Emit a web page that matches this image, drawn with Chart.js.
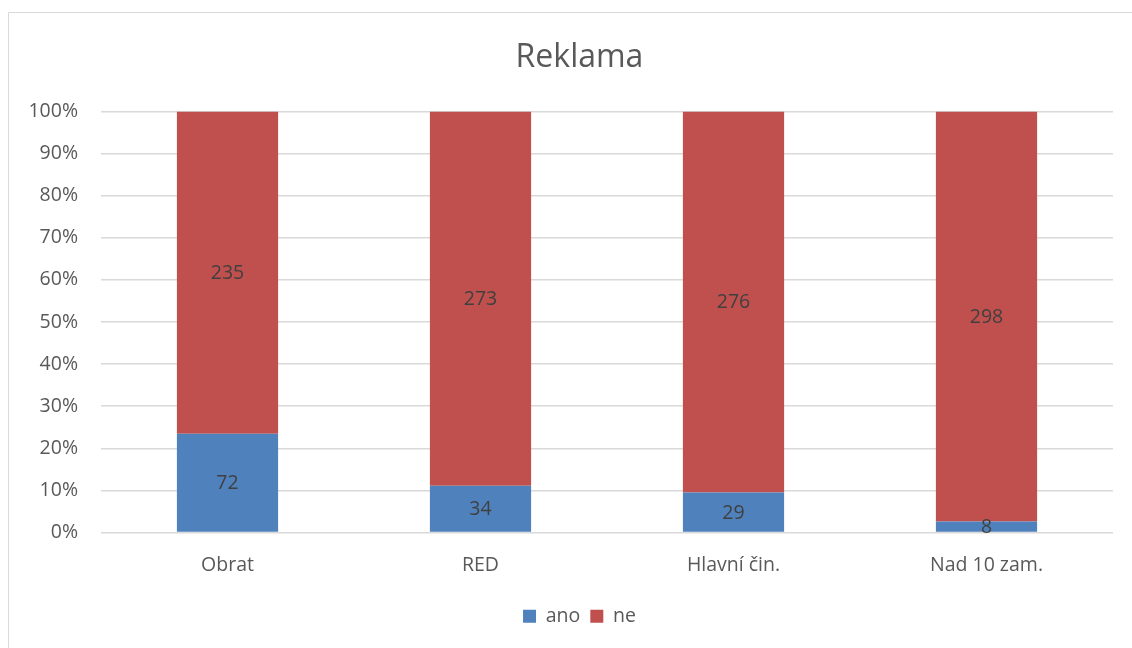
<!DOCTYPE html>
<html lang="cs">
<head>
<meta charset="UTF-8">
<title>Reklama</title>
<script src="https://cdn.jsdelivr.net/npm/chart.js"></script>
<style>
  html, body { margin: 0; background: #fff; overflow: hidden; }
  /* canvas is a bit wider than the window so title/legend centre like the original */
  #wrap { width: 1159px; height: 648px; position: relative; }
</style>
</head>
<body>
<div id="wrap"><canvas id="reklamaChart"></canvas></div>
<script>
// data
const categories = ['Obrat', 'RED', 'Hlavní čin.', 'Nad 10 zam.'];
const ano = [72, 34, 29, 8];
const ne = [235, 273, 276, 298];
const yTicks = [0, 10, 20, 30, 40, 50, 60, 70, 80, 90, 100];

const totals = categories.map((c, i) => ano[i] + ne[i]);
const pct = arr => arr.map((v, i) => v / totals[i] * 100);

const FONT = "'Open Sans', 'Noto Sans', sans-serif";
const TEXT = '#595959';

// frame line along top and left like the original export
const framePlugin = {
  id: 'frame',
  beforeDraw(chart) {
    const c = chart.ctx;
    c.save();
    c.fillStyle = '#fff';
    c.fillRect(0, 0, chart.width, chart.height);
    c.strokeStyle = '#D9D9D9';
    c.lineWidth = 1;
    c.beginPath();
    c.moveTo(8.5, chart.height);
    c.lineTo(8.5, 12.5);
    c.lineTo(chart.width, 12.5);
    c.stroke();
    c.restore();
  }
};

// raw counts written in the middle of each segment
const countLabels = {
  id: 'countLabels',
  afterDatasetsDraw(chart) {
    const c = chart.ctx;
    const raw = [ano, ne];
    c.save();
    c.font = '19.5px ' + FONT;
    c.fillStyle = '#404040';
    c.textAlign = 'center';
    c.textBaseline = 'middle';
    chart.data.datasets.forEach((ds, di) => {
      chart.getDatasetMeta(di).data.forEach((bar, i) => {
        const p = bar.getProps(['x', 'y', 'base'], true);
        c.fillText(String(raw[di][i]), p.x, (p.y + p.base) / 2 + 1);
      });
    });
    c.restore();
  }
};

new Chart(document.getElementById('reklamaChart'), {
  type: 'bar',
  data: {
    labels: categories,
    datasets: [
      { label: 'ano', data: pct(ano), backgroundColor: '#4F81BD' },
      { label: 'ne', data: pct(ne), backgroundColor: '#C0504D' }
    ]
  },
  options: {
    responsive: true,
    maintainAspectRatio: false,
    animation: false,
    categoryPercentage: 1,
    barPercentage: 0.4,
    layout: { padding: { left: 0, right: 0, top: 0, bottom: 12 } },
    plugins: {
      title: {
        display: true,
        text: 'Reklama',
        color: TEXT,
        font: { family: FONT, size: 32, weight: 'normal' },
        padding: { top: 39, bottom: 34 }
      },
      legend: {
        position: 'bottom',
        labels: {
          color: TEXT,
          font: { family: FONT, size: 19.5 },
          boxWidth: 13,
          boxHeight: 13,
          padding: 10
        }
      },
      tooltip: { enabled: false }
    },
    scales: {
      x: {
        stacked: true,
        afterFit(scale) { scale.height = 64; },
        grid: { display: false, drawTicks: false },
        border: { display: false },
        ticks: { color: TEXT, font: { family: FONT, size: 19.5 }, padding: 21 }
      },
      y: {
        stacked: true,
        min: 0,
        max: 100,
        afterFit(scale) { scale.width = 101; },
        afterBuildTicks(scale) { scale.ticks = yTicks.map(v => ({ value: v })); },
        grid: { color: '#D9D9D9', lineWidth: 1.5, drawTicks: false },
        border: { display: false },
        ticks: {
          color: TEXT,
          font: { family: FONT, size: 19.5 },
          padding: 23,
          callback: v => v + '%'
        }
      },
      // empty spacer on the right, keeps the plot ending where the original does
      spacer: {
        position: 'right',
        display: true,
        afterFit(scale) { scale.width = 46; },
        grid: { display: false, drawTicks: false },
        border: { display: false },
        ticks: { display: false }
      }
    }
  },
  plugins: [framePlugin, countLabels]
});
</script>
</body>
</html>
